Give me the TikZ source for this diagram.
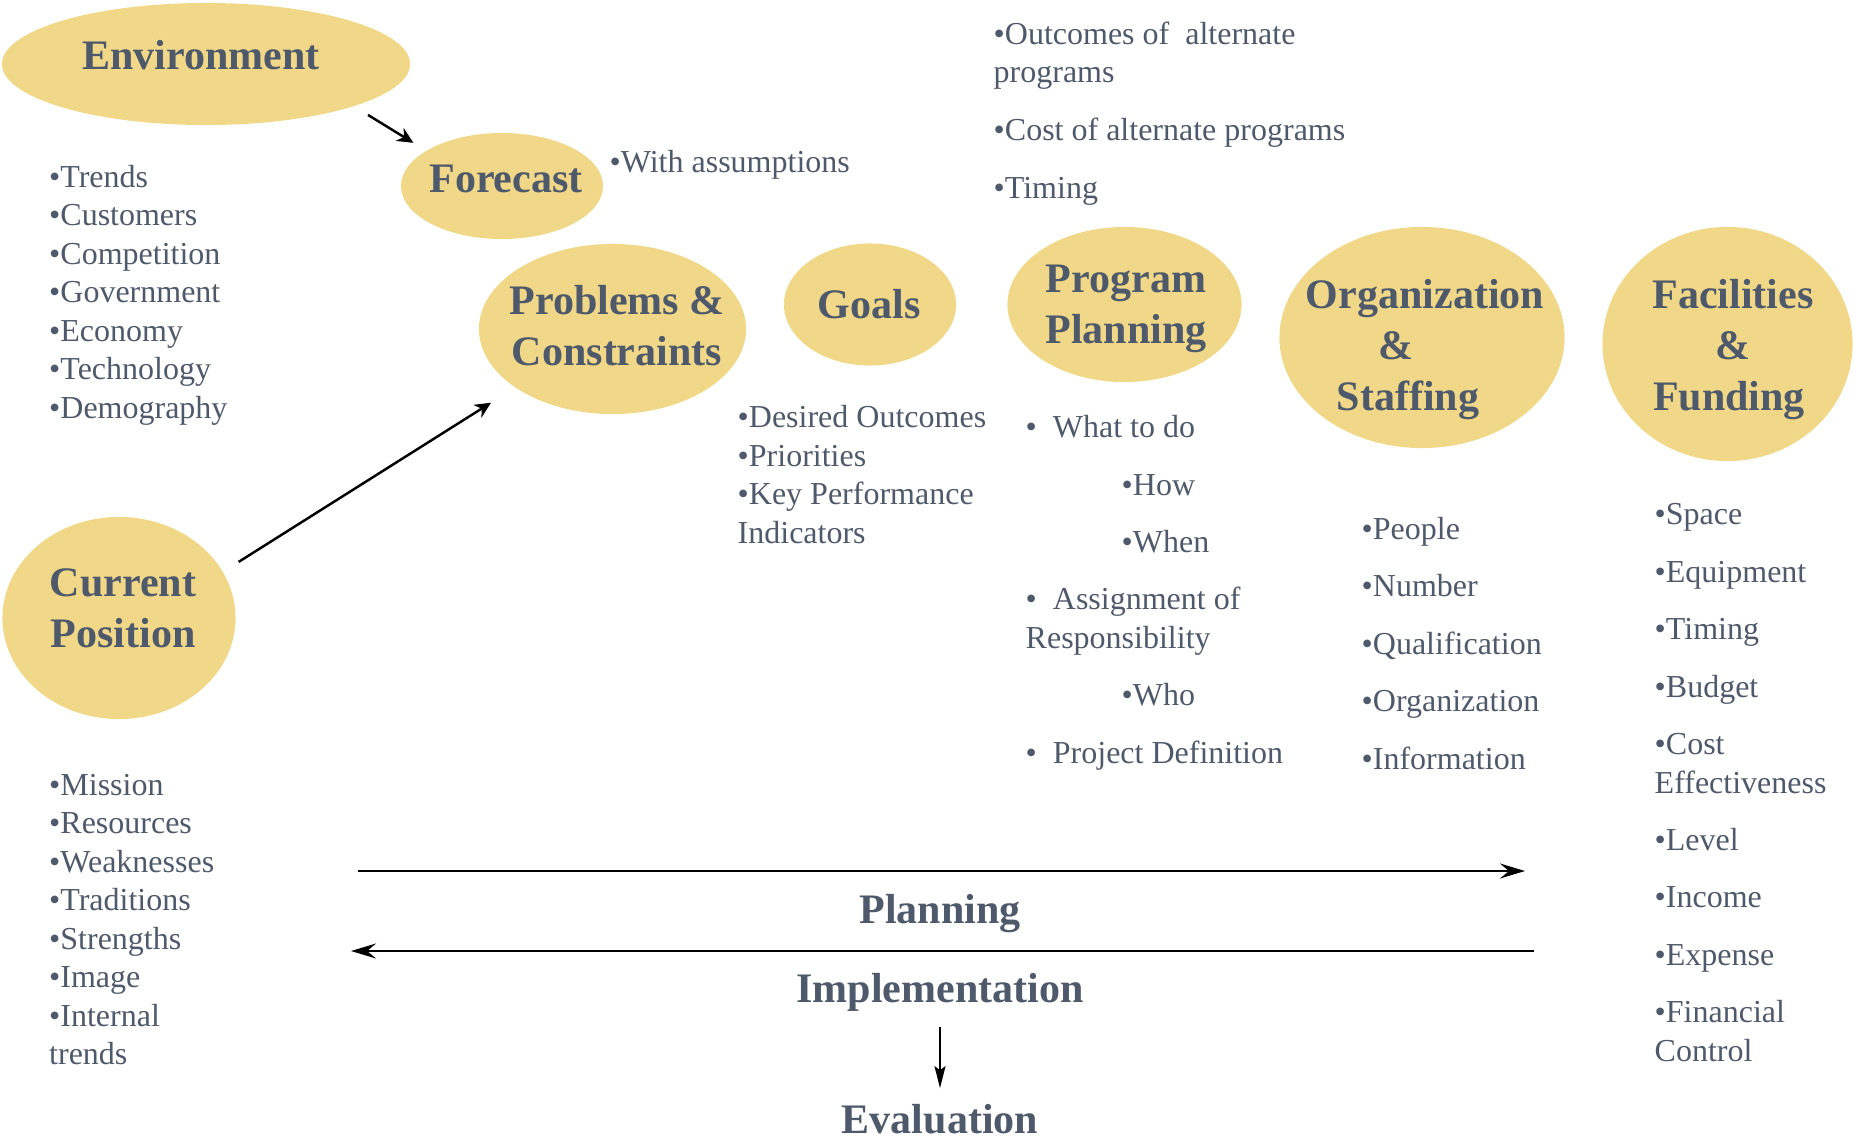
\documentclass[tikz,border=0pt]{standalone}
\usepackage{fontspec}
\setmainfont{Liberation Serif}
\usepackage{tikz}
\usetikzlibrary{arrows.meta, shapes.geometric}
\definecolor{sable}{HTML}{F0D888}
\definecolor{ardoise}{HTML}{4E5A6B}

\begin{document}
\begin{tikzpicture}[x=0.01cm, y=-0.01cm,
    ovale/.style={ellipse, fill=sable, inner sep=0pt},
    titre/.style={font=\bfseries\fontsize{11.95}{14.5}\selectfont, color=ardoise, inner sep=0pt, align=center},
    puce/.style={font=\fontsize{9.1}{10.9}\selectfont, color=ardoise, inner sep=0pt, anchor=base west},
    lien/.style={line width=0.7pt, -{Stealth[length=1.6mm, width=1.5mm, inset=0.5mm]}},
    fleche/.style={line width=0.75pt, -{Stealth[length=2.5mm, width=1.5mm, inset=0.9mm]}},
    fine/.style={line width=0.45pt, -{Stealth[length=2.2mm, width=1.1mm, inset=0.4mm]}}]
    \useasboundingbox (0,0) rectangle (1854,1139);

    % bulles
    \node[ovale, minimum width=4.08cm, minimum height=1.22cm] (env) at (206,64) {};
    \node[ovale, minimum width=2.02cm, minimum height=1.06cm] (fcst) at (502,186) {};
    \node[ovale, minimum width=2.67cm, minimum height=1.70cm] (prob) at (612.5,329) {};
    \node[ovale, minimum width=1.72cm, minimum height=1.22cm] (goals) at (870,304.5) {};
    \node[ovale, minimum width=2.34cm, minimum height=1.55cm] (prog) at (1124.5,304.5) {};
    \node[ovale, minimum width=2.85cm, minimum height=2.21cm] (org) at (1422,337.5) {};
    \node[ovale, minimum width=2.50cm, minimum height=2.34cm] (fac) at (1727.5,344) {};
    \node[ovale, minimum width=2.33cm, minimum height=2.02cm] (cur) at (119,618) {};

    \node[titre, anchor=base] (env-t) at (201,69) {Environment};
    \node[titre, anchor=base] (fcst-t) at (506,192.5) {Forecast};
    \node[titre] (prob-t) at (617,325.5) {Problems \&\\Constraints};
    \node[titre, anchor=base] (goals-t) at (869,318.5) {Goals};
    \node[titre] (prog-t) at (1126,309) {Program\\Planning};
    \node[titre] (org-t) at (1425,350) {Organization\\\&\rule{5.8mm}{0pt}\\Staffing\rule{3.4mm}{0pt}};
    \node[titre] (fac-t) at (1733,350) {Facilities\\\&\\Funding\rule{0.8mm}{0pt}};
    \node[titre] (cur-t) at (123,608.5) {Current\\Position};

    \draw[lien, shorten <=1.6mm, shorten >=1.45mm] (env.-16.4) -- (fcst.155.8);
    \draw[lien, shorten <=1.8mm, shorten >=2.8mm] (cur.24.4) -- (prob.211);

    % listes
    \node[puce] (fcst-note) at (609,172.5) {•With assumptions};
    \foreach \lab [count=\i] in {•Trends, •Customers, •Competition, •Government,
      •Economy, •Technology, •Demography}
      \node[puce] (env-\i) at ({48.5},{187+38.5*(\i-1)}) {\lab};
    \foreach \lab [count=\i] in {•Mission, •Resources, •Weaknesses, •Traditions,
      •Strengths, •Image, •Internal, trends}
      \node[puce] (cur-\i) at ({48.5},{795+38.5*(\i-1)}) {\lab};
    \foreach \y/\lab [count=\i] in {44/{•Outcomes of~ alternate}, 82/programs,
      140/{•Cost of alternate programs}, 198/•Timing}
      \node[puce] (alt-\i) at (993,\y) {\lab};
    \foreach \y/\lab [count=\i] in {427.5/{•Desired Outcomes}, 466/•Priorities,
      504.5/{•Key Performance}, 543/Indicators}
      \node[puce] (goals-\i) at (737,\y) {\lab};
    \foreach \x/\y/\lab [count=\i] in {
      1025/437/{•\ \ What to do},
      1121/495/•How,
      1121/552/•When,
      1025/609/{•\ \ Assignment of},
      1025/648/Responsibility,
      1121/705/•Who,
      1025/763/{•\ \ Project Definition}}
      \node[puce] (prog-\i) at (\x,\y) {\lab};
    \foreach \lab [count=\i] in {•People, •Number, •Qualification, •Organization, •Information}
      \node[puce] (org-\i) at ({1361},{539+57.5*(\i-1)}) {\lab};
    \foreach \y/\lab [count=\i] in {
      524.5/•Space, 582/•Equipment, 639.5/•Timing, 697/•Budget,
      754/•Cost, 793/Effectiveness, 850/•Level, 907.5/•Income,
      965/•Expense, 1022/•Financial, 1061/Control}
      \node[puce] (fac-\i) at (1654,\y) {\lab};

    % cycle du plan
    \coordinate (plan-a) at (358,871);
    \coordinate (plan-b) at (1525,871);
    \coordinate (impl-a) at (1534,951);
    \coordinate (impl-b) at (351,951);
    \draw[fleche] (plan-a) -- (plan-b);
    \draw[fleche] (impl-a) -- (impl-b);
    \node[titre, anchor=base] (plan-t) at (940,923) {Planning};
    \node[titre, anchor=base] (impl-t) at (940,1002) {Implementation};
    \node[titre, anchor=base] (eval-t) at (940,1133) {Evaluation};
    \draw[fine, shorten <=1.5mm, shorten >=1.5mm] (impl-t.south) -- (eval-t.north);
\end{tikzpicture}
\end{document}
